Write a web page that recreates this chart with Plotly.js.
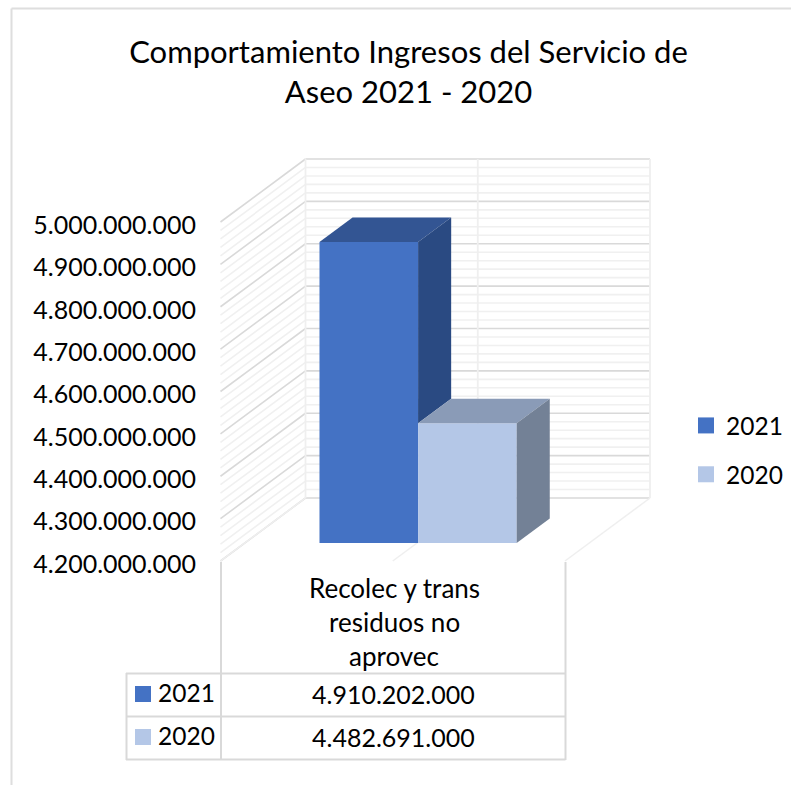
<!DOCTYPE html>
<html><head><meta charset="utf-8">
<script src="https://cdn.plot.ly/plotly-3.0.1.min.js"></script>
<style>html,body{margin:0;padding:0;background:#fff}#c{width:791px;height:785px}</style>
</head><body><div id="c"></div>
<script>
const categoryLines = ['Recolec y trans','residuos no','aprovec'];
const seriesNames = ['2021','2020'];
const seriesValues = [4910202000, 4482691000];
const tickVals = [4200000000,4300000000,4400000000,4500000000,4600000000,4700000000,4800000000,4900000000,5000000000];
const frontColors = ['#4472C4','#B4C7E7'];
const topColors = ['#335593','#8A9BB7'];
const sideColors = ['#2A4A82','#738196'];

const fmt = v => String(v).replace(/\B(?=(\d{3})+$)/g,'.');
const FONT = 'Lato, Carlito, sans-serif';
const W=791,H=785;
const FX=220.5, FW=344.5, BASEPY=561, UNITPY=339/0.8e9, DX=85/FW, DY=63/UNITPY, V0=4.2e9;
const Px = p => (p-FX)/FW;
const Py = p => V0+(BASEPY-p)/UNITPY;
const X = (u,d) => u+d*DX;
const Y = (v,d) => v+d*DY;

const shapes=[];
function seg(x0,y0,x1,y1,color,w){shapes.push({type:'line',xref:'x',yref:'y',layer:'below',x0,y0,x1,y1,line:{color,width:w}});}
const MAJOR='#d9d9d9', MINOR='#f0f0f0';
for(let pass=0;pass<2;pass++){
  for(let v=V0;v<=5e9;v+=2e7){
    const major=Math.round((v-V0)/2e7)%5===0;
    if(major!==(pass===1))continue;
    const c=major?MAJOR:MINOR;
    seg(X(0,0),Y(v,0),X(0,1),Y(v,1),c,1.6);
    seg(X(0,1),Y(v,1),X(1,1),Y(v,1),c,1.6);
  }
}
[0,0.5,1].forEach(u=>{
  seg(X(u,1),Y(V0,1),X(u,1),Y(5e9,1),'#efefef',1.8);
  seg(X(u,0),Y(V0,0),X(u,1),Y(V0,1),'#efefef',1.5);
});
seg(Px(11.5),Py(8.5),Px(11.5),Py(785),'#dedede',2);
seg(Px(11.5),Py(8.5),Px(791),Py(8.5),'#dedede',2);
const TBL='#d9d9d9';
[673.5,716.5,759.5].forEach(p=>seg(Px(126),Py(p),Px(565.5),Py(p),TBL,2));
seg(Px(126.5),Py(673),Px(126.5),Py(760),TBL,2);
seg(Px(221),Py(562),Px(221),Py(760),TBL,2);
seg(Px(565.5),Py(562),Px(565.5),Py(760),TBL,2);

const BD0=0.286, BD1=0.675, BW=98.6/FW, CENTER=0.503;
const traces=[];
const barEdges=[CENTER-BW,CENTER,CENTER+BW];
seriesValues.forEach((v,i)=>{
  traces.push({type:'bar',x:[X(barEdges[i]+BW/2,BD0)],y:[v-V0],base:[Y(V0,BD0)],width:[BW],
    marker:{color:frontColors[i],line:{width:0}},showlegend:false,hoverinfo:'skip'});
});
seriesValues.forEach((v,i)=>{
  const l=barEdges[i], r=barEdges[i+1];
  traces.push({type:'scatter',mode:'lines',fill:'toself',fillcolor:topColors[i],line:{width:0},showlegend:false,hoverinfo:'skip',
    x:[X(l,BD0),X(l,BD1),X(r,BD1),X(r,BD0),X(l,BD0)],
    y:[Y(v,BD0),Y(v,BD1),Y(v,BD1),Y(v,BD0),Y(v,BD0)]});
  const lo = i+1<seriesValues.length ? seriesValues[i+1] : V0;
  traces.push({type:'scatter',mode:'lines',fill:'toself',fillcolor:sideColors[i],line:{width:0},showlegend:false,hoverinfo:'skip',
    x:[X(r,BD0),X(r,BD1),X(r,BD1),X(r,BD0),X(r,BD0)],
    y:[Y(v,BD0),Y(v,BD1),Y(lo,BD1),Y(lo,BD0),Y(v,BD0)]});
});
seriesNames.forEach((n,i)=>{
  traces.push({type:'scatter',mode:'markers',name:n,legendgroup:n,x:[null],y:[null],
    marker:{symbol:'square',size:16,color:frontColors[i],line:{width:0}}});
});
seriesNames.forEach((n,i)=>{
  traces.push({type:'scatter',mode:'markers',showlegend:false,hoverinfo:'skip',x:[Px(143)],y:[Py(694+43*i)],
    marker:{symbol:'square',size:16,color:frontColors[i],line:{width:0}}});
});

const annotations=[];
function txt(text,px,py,anchor,size){annotations.push({text,xref:'x',yref:'y',x:Px(px),y:Py(py),xanchor:anchor||'center',yanchor:'middle',showarrow:false,font:{family:FONT,size:size,color:'#000'}});}
categoryLines.forEach((t,i)=>txt(t,394,588+34*i,'center',26));
seriesNames.forEach((n,i)=>{txt(n,156,692+43*i,'left',24.5);txt(fmt(seriesValues[i]),393,694+43*i,'center',25);});

Plotly.newPlot('c',traces,{
  width:W,height:H,margin:{l:0,r:0,t:0,b:0},paper_bgcolor:'#fff',plot_bgcolor:'rgba(0,0,0,0)',
  showlegend:true,barmode:'overlay',
  title:{text:'Comportamiento Ingresos del Servicio de<br>Aseo 2021 - 2020',font:{family:FONT,size:31,color:'#000'},x:408.5/W,xanchor:'center',y:1-63/H,yanchor:'middle',xref:'paper',yref:'paper'},
  xaxis:{range:[Px(0),Px(W)],visible:false,fixedrange:true},
  yaxis:{range:[Py(H),Py(0)],anchor:'free',position:196/W,showgrid:false,zeroline:false,showline:false,ticks:'',ticklabelshift:3,
    tickmode:'array',tickvals:tickVals,ticktext:tickVals.map(fmt),tickfont:{family:FONT,size:25,color:'#000'},fixedrange:true},
  legend:{x:686/W,xanchor:'left',y:1-403/H,yanchor:'top',traceorder:'grouped',tracegroupgap:14,font:{family:FONT,size:24.5,color:'#000'},bgcolor:'rgba(0,0,0,0)',itemclick:false,itemdoubleclick:false},
  shapes,annotations
},{displayModeBar:false,staticPlot:true});
</script></body></html>
